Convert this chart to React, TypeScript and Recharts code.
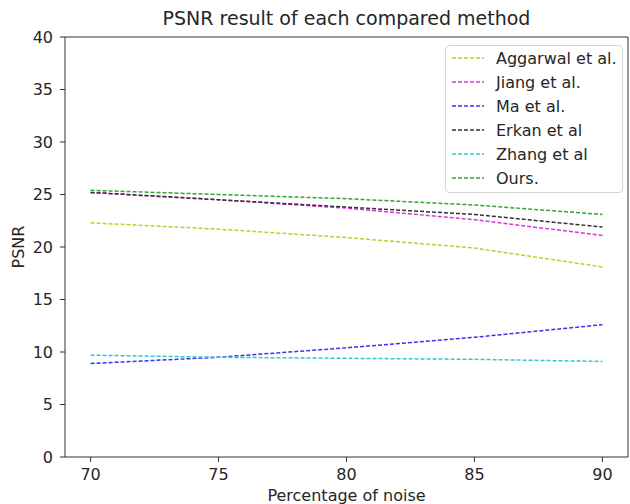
import React from 'react';
import { LineChart, Line, XAxis, YAxis, Legend, ReferenceLine } from 'recharts';

const noise = [70, 75, 80, 85, 90];
const aggarwal = [22.3, 21.7, 20.9, 19.9, 18.1];
const jiang = [25.2, 24.5, 23.7, 22.6, 21.1];
const ma = [8.9, 9.5, 10.4, 11.4, 12.6];
const erkan = [25.2, 24.5, 23.8, 23.1, 21.9];
const zhang = [9.7, 9.5, 9.4, 9.3, 9.1];
const ours = [25.4, 25.0, 24.6, 24.0, 23.1];
const xTicks = [70, 75, 80, 85, 90];
const yTicks = [0, 5, 10, 15, 20, 25, 30, 35, 40];

const series = [
  { key: 'aggarwal', name: 'Aggarwal et al.', color: '#c8c830', values: aggarwal },
  { key: 'jiang', name: 'Jiang et al.', color: '#d935d9', values: jiang },
  { key: 'ma', name: 'Ma et al.', color: '#3535f0', values: ma },
  { key: 'erkan', name: 'Erkan et al', color: '#333333', values: erkan },
  { key: 'zhang', name: 'Zhang et al', color: '#35c8c8', values: zhang },
  { key: 'ours', name: 'Ours.', color: '#35a535', values: ours },
];

const data = noise.map((n, i) => {
  const row: any = { noise: n };
  series.forEach((s) => (row[s.key] = s.values[i]));
  return row;
});

const FONT = 'DejaVu Sans, sans-serif';
const TXT = '#262626';

const renderLegend = () => (
  <div
    style={{
      border: '1px solid #d4d4d4',
      borderRadius: 4,
      background: 'rgba(255,255,255,0.85)',
      padding: '0px 8px 2px 5px',
      fontFamily: FONT,
      fontSize: 16,
      color: TXT,
      boxSizing: 'border-box',
      width: 178,
    }}
  >
    {series.map((s) => (
      <div key={s.key} style={{ display: 'flex', alignItems: 'center', height: 24 }}>
        <svg width={33} height={10} style={{ marginRight: 12, flex: 'none' }}>
          <line x1={1} y1={5} x2={33} y2={5} stroke={s.color} strokeWidth={1.5} strokeDasharray="4 2" />
        </svg>
        <span style={{ whiteSpace: 'nowrap' }}>{s.name}</span>
      </div>
    ))}
  </div>
);

const YLabel = (props: any) => {
  const vb = props.viewBox || {};
  const cx = 18;
  const cy = vb.y + vb.height / 2;
  return (
    <text
      x={cx}
      y={cy}
      transform={`rotate(-90 ${cx} ${cy})`}
      textAnchor="middle"
      dominantBaseline="central"
      fontFamily={FONT}
      fontSize={16}
      fill={TXT}
    >
      PSNR
    </text>
  );
};

export default function App() {
  return (
    <div style={{ position: 'absolute', left: 0, top: 0, width: 630, height: 504, background: '#fff' }}>
      <LineChart
        width={630}
        height={504}
        data={data}
        margin={{ top: 37, right: 2, left: 0, bottom: 0 }}
      >
        <XAxis
          dataKey="noise"
          type="number"
          domain={[69, 91]}
          ticks={xTicks}
          allowDataOverflow
          height={47}
          tickSize={5}
          tickMargin={7}
          stroke="#333"
          tick={{ fill: TXT, fontSize: 16, fontFamily: FONT }}
          label={{ value: 'Percentage of noise', position: 'insideBottom', offset: 3, fill: TXT, fontSize: 16, fontFamily: FONT }}
        />
        <YAxis
          type="number"
          domain={[0, 40]}
          ticks={yTicks}
          width={65}
          tickSize={5}
          tickMargin={7}
          stroke="#333"
          tick={{ fill: TXT, fontSize: 16, fontFamily: FONT }}
          label={<YLabel />}
        />
        <ReferenceLine y={40} stroke="#333" />
        <ReferenceLine x={91} stroke="#333" />
        {series.map((s) => (
          <Line
            key={s.key}
            dataKey={s.key}
            name={s.name}
            type="linear"
            stroke={s.color}
            strokeWidth={1.5}
            strokeDasharray="4 2"
            dot={false}
            activeDot={false}
            isAnimationActive={false}
          />
        ))}
        <Legend
          layout="horizontal"
          align="center"
          verticalAlign="middle"
          content={renderLegend}
          wrapperStyle={{ position: 'absolute', top: 45, left: 445, width: 178, height: 147 }}
        />
      </LineChart>
      <div
        style={{
          position: 'absolute',
          left: 65,
          width: 563,
          top: 7,
          textAlign: 'center',
          fontFamily: FONT,
          fontSize: 19,
          lineHeight: '22px',
          color: TXT,
          whiteSpace: 'nowrap',
        }}
      >
        PSNR result of each compared method
      </div>
    </div>
  );
}
